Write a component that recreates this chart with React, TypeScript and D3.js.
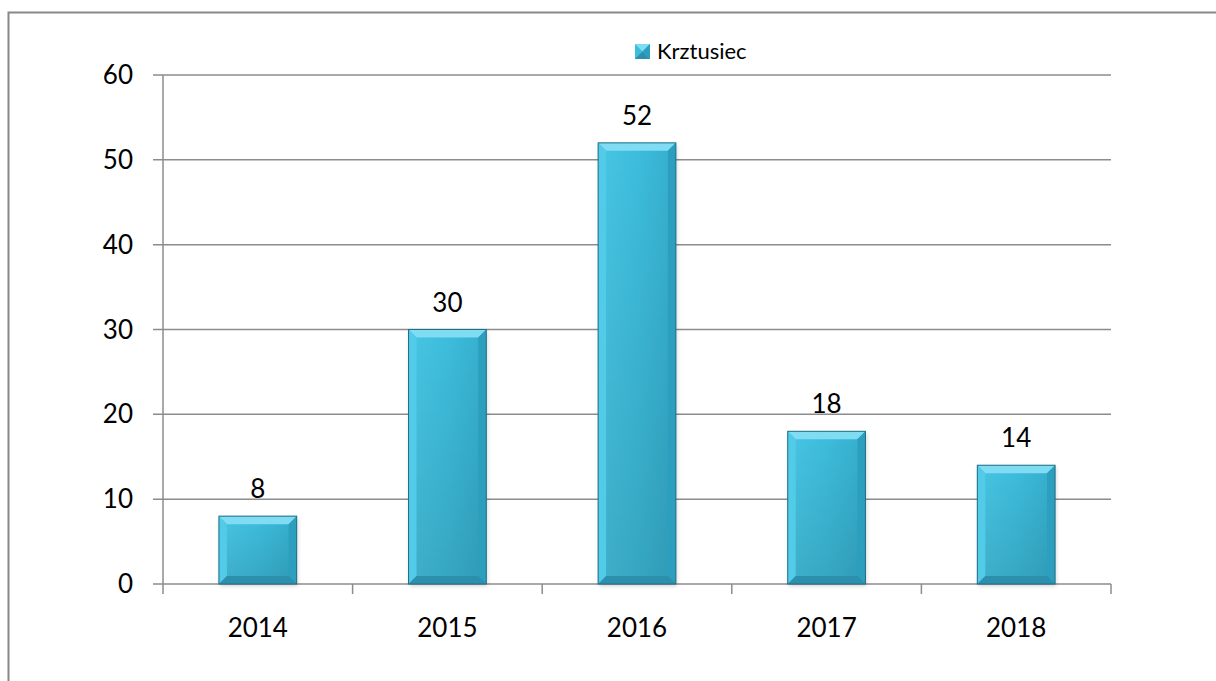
import React from "react";
import * as d3 from "d3";

const categories = ["2014", "2015", "2016", "2017", "2018"];
const values = [8, 30, 52, 18, 14];
const yTicks = [0, 10, 20, 30, 40, 50, 60];
const seriesName = "Krztusiec";

const W = 1216;
const H = 681;
const plot = { left: 163, right: 1111, top: 75, bottom: 584 };
const FONT = "Lato, 'Open Sans', sans-serif";

export default function App() {
  const x = d3
    .scaleBand<string>()
    .domain(categories)
    .range([plot.left, plot.right])
    .paddingInner(0.59)
    .paddingOuter(0.295);
  const xCat = d3.scaleBand<string>().domain(categories).range([plot.left, plot.right]);
  const y = d3.scaleLinear().domain([0, 60]).range([plot.bottom, plot.top]);
  const bw = x.bandwidth();
  const bev = 8;

  return (
    <svg
      width={W}
      height={H}
      style={{ position: "absolute", left: 0, top: 0, background: "#fff" }}
      fontFamily={FONT}
    >
      <defs>
        <linearGradient id="body" x1="0" y1="0" x2="1" y2="0">
          <stop offset="0" stopColor="#48c6e4" />
          <stop offset="0.5" stopColor="#3dbddc" />
          <stop offset="1" stopColor="#35aecd" />
        </linearGradient>
        <linearGradient id="bodyV" x1="0" y1="0" x2="0" y2="1">
          <stop offset="0" stopColor="#000" stopOpacity="0" />
          <stop offset="1" stopColor="#000" stopOpacity="0.12" />
        </linearGradient>
        <filter id="sh" x="-20%" y="-20%" width="140%" height="140%">
          <feGaussianBlur stdDeviation="2" />
        </filter>
      </defs>
      <rect x={8.5} y={12.5} width={1300} height={1000} fill="#fff" stroke="#888" strokeWidth={2} />

      {/* gridlines */}
      {yTicks.map((t) => (
        <g key={t}>
          <line x1={plot.left - 10} x2={plot.right} y1={y(t)} y2={y(t)} stroke="#8c8c8c" strokeWidth={1.5} />
          <text
            x={133}
            y={y(t) + 9}
            textAnchor="end"
            fontSize={26}
            fill="#000"
          >
            {t}
          </text>
        </g>
      ))}
      {/* y axis */}
      <line x1={plot.left} x2={plot.left} y1={plot.top} y2={plot.bottom} stroke="#8c8c8c" strokeWidth={1.5} />
      {/* x ticks */}
      {categories.map((c) => (
        <line
          key={"t" + c}
          x1={xCat(c)!}
          x2={xCat(c)!}
          y1={plot.bottom}
          y2={plot.bottom + 10}
          stroke="#8c8c8c"
          strokeWidth={1.5}
        />
      ))}
      <line x1={plot.right} x2={plot.right} y1={plot.bottom} y2={plot.bottom + 10} stroke="#8c8c8c" strokeWidth={1.5} />

      {/* bars */}
      {categories.map((c, i) => {
        const x0 = x(c)!;
        const x1 = x0 + bw;
        const y0 = y(values[i]);
        const y1 = y(0);
        return (
          <g key={c}>
            <rect x={x0 + 1} y={y0 + 2} width={bw} height={y1 - y0} fill="#000" opacity={0.18} filter="url(#sh)" />
            <rect x={x0} y={y0} width={bw} height={y1 - y0} fill="url(#body)" />
            <rect x={x0} y={y0} width={bw} height={y1 - y0} fill="url(#bodyV)" />
            <polygon
              points={`${x0},${y0} ${x1},${y0} ${x1 - bev},${y0 + bev} ${x0 + bev},${y0 + bev}`}
              fill="#7fdcf2"
            />
            <polygon
              points={`${x0},${y0} ${x0 + bev},${y0 + bev} ${x0 + bev},${y1 - bev} ${x0},${y1}`}
              fill="#52cbe8"
            />
            <polygon
              points={`${x1},${y0} ${x1 - bev},${y0 + bev} ${x1 - bev},${y1 - bev} ${x1},${y1}`}
              fill="#2c9ebe"
            />
            <polygon
              points={`${x0},${y1} ${x1},${y1} ${x1 - bev},${y1 - bev} ${x0 + bev},${y1 - bev}`}
              fill="#2b8fad"
            />
            <rect x={x0} y={y0} width={bw} height={y1 - y0} fill="none" stroke="#1f6f86" strokeWidth={1} />
            <text
              x={x0 + bw / 2}
              y={y0 - 18}
              textAnchor="middle"
              fontSize={26}
              fill="#000"
            >
              {values[i]}
            </text>
          </g>
        );
      })}

      {/* x labels */}
      {categories.map((c) => (
        <text
          key={"l" + c}
          x={xCat(c)! + xCat.bandwidth() / 2}
          y={637}
          textAnchor="middle"
          fontSize={26}
          fill="#000"
        >
          {c}
        </text>
      ))}

      {/* legend */}
      <g>
        <rect x={635} y={44} width={15} height={15} fill="#3dbddc" />
        <polygon points="635,44 650,44 642.5,51.5" fill="#7fdcf2" />
        <polygon points="635,59 650,59 642.5,51.5" fill="#2b8fad" />
        <polygon points="650,44 650,59 642.5,51.5" fill="#2c9ebe" />
        <text x={657} y={59} fontSize={22} fill="#000">
          {seriesName}
        </text>
      </g>
    </svg>
  );
}
